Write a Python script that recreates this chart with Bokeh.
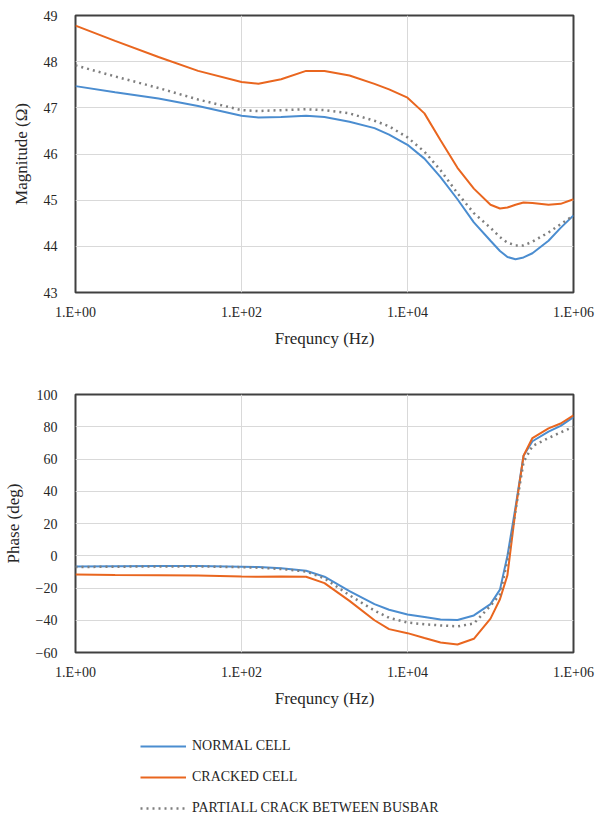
from bokeh.plotting import figure
from bokeh.models import Range1d, FixedTicker, Legend, LegendItem
from bokeh.layouts import column
from bokeh.embed import file_html
from bokeh.resources import INLINE

# ---- data ----
freq_hz = [1, 3, 10, 30, 100, 160, 300, 600, 1000, 2000, 4000, 6000,
           10000, 16000, 25000, 40000, 63000, 100000, 130000, 160000,
           200000, 250000, 320000, 500000, 700000, 1000000]

mag_normal = [47.47, 47.34, 47.20, 47.04, 46.83, 46.79, 46.80, 46.83, 46.80,
              46.70, 46.56, 46.42, 46.20, 45.90, 45.50, 45.02, 44.52, 44.12,
              43.90, 43.77, 43.72, 43.76, 43.85, 44.12, 44.40, 44.67]
mag_cracked = [48.78, 48.45, 48.10, 47.80, 47.56, 47.52, 47.62, 47.80, 47.80,
               47.70, 47.52, 47.40, 47.22, 46.88, 46.30, 45.70, 45.25, 44.90,
               44.82, 44.84, 44.90, 44.95, 44.94, 44.90, 44.92, 45.02]
mag_partial = [47.92, 47.68, 47.43, 47.18, 46.95, 46.93, 46.95, 46.97, 46.95,
               46.88, 46.72, 46.60, 46.36, 46.05, 45.65, 45.15, 44.72, 44.40,
               44.20, 44.08, 44.02, 44.02, 44.10, 44.30, 44.48, 44.67]

ph_normal = [-6.7, -6.5, -6.3, -6.3, -6.8, -7.0, -7.8, -9.3, -13.0, -22.0,
             -30.0, -33.5, -36.4, -38.0, -39.5, -39.8, -37.0, -30.0, -21.0,
             0.0, 30.0, 62.0, 71.0, 77.0, 80.5, 86.0]
ph_cracked = [-11.6, -11.9, -12.1, -12.3, -12.9, -13.1, -12.8, -13.0, -17.0,
              -28.0, -40.0, -45.5, -48.0, -51.0, -53.8, -55.0, -51.5, -39.0,
              -27.0, -12.0, 28.0, 62.0, 73.0, 79.0, 82.0, 87.0]
ph_partial = [-7.0, -6.8, -6.6, -6.6, -7.1, -7.4, -8.2, -9.8, -14.0, -24.5,
              -34.0, -38.5, -41.4, -42.5, -43.2, -43.8, -42.0, -31.0, -24.0,
              -3.0, 28.0, 58.0, 68.0, 73.0, 76.5, 80.0]

x_ticks = [1, 100, 10000, 1000000]
x_tick_labels = ["1.E+00", "1.E+02", "1.E+04", "1.E+06"]
mag_ticks = [43, 44, 45, 46, 47, 48, 49]
ph_ticks = [-60, -40, -20, 0, 20, 40, 60, 80, 100]

series_names = ["NORMAL CELL", "CRACKED CELL", "PARTIALL CRACK BETWEEN BUSBAR"]

# ---- styles ----
FONT = "'Liberation Serif', 'Times New Roman', serif"
LEGEND_FONT = "Liberation Serif"
BLUE = "#4B8DD0"
ORANGE = "#E9661F"
GRAY = "#7F7F7F"
TXT = "#262626"


def style(p, yticks, ylabel):
    p.xaxis.ticker = FixedTicker(ticks=x_ticks, minor_ticks=[])
    p.xaxis.major_label_overrides = {t: l for t, l in zip(x_ticks, x_tick_labels)}
    p.yaxis.ticker = FixedTicker(ticks=yticks, minor_ticks=[])
    p.xaxis.axis_label = "Frequncy (Hz)"
    p.yaxis.axis_label = ylabel
    for ax in (p.xaxis, p.yaxis):
        ax.axis_line_color = None
        ax.major_tick_line_color = None
        ax.minor_tick_line_color = None
        ax.major_label_text_font = FONT
        ax.major_label_text_font_size = "14px"
        ax.major_label_text_color = TXT
        ax.axis_label_text_font = FONT
        ax.axis_label_text_font_size = "17px"
        ax.axis_label_text_font_style = "normal"
        ax.axis_label_text_color = TXT
    p.xaxis.major_label_standoff = 6
    p.yaxis.major_label_standoff = 12
    p.xaxis.axis_label_standoff = 6
    p.yaxis.axis_label_standoff = 10
    p.grid.grid_line_color = "#D9D9D9"
    p.grid.grid_line_width = 1
    p.outline_line_color = "#404040"
    p.outline_line_width = 2
    p.background_fill_color = "white"
    p.border_fill_color = "white"


# ---- magnitude ----
p1 = figure(frame_width=498, frame_height=277, x_axis_type="log",
            x_range=Range1d(1, 1e6), y_range=Range1d(43, 49),
            output_backend="svg", toolbar_location=None,
            min_border_left=72, min_border_right=25, min_border_top=15,
            min_border_bottom=58)
style(p1, mag_ticks, "Magnitude (Ω)")
p1.line(freq_hz, mag_normal, line_color=BLUE, line_width=2)
p1.line(freq_hz, mag_cracked, line_color=ORANGE, line_width=2)
p1.line(freq_hz, mag_partial, line_color=GRAY, line_width=2.5, line_dash="2 4")

# ---- phase ----
p2 = figure(frame_width=498, frame_height=258, x_axis_type="log",
            x_range=Range1d(1, 1e6), y_range=Range1d(-60, 100),
            output_backend="svg", toolbar_location=None,
            min_border_left=72, min_border_right=25, min_border_top=44,
            min_border_bottom=63)
style(p2, ph_ticks, "Phase (deg)")
p2.line(freq_hz, ph_normal, line_color=BLUE, line_width=2)
p2.line(freq_hz, ph_cracked, line_color=ORANGE, line_width=2)
p2.line(freq_hz, ph_partial, line_color=GRAY, line_width=2.5, line_dash="2 4")

# ---- legend strip (series drawn outside its visible ranges; only the key shows) ----
p3 = figure(frame_width=498, frame_height=106, x_range=Range1d(-2, -1),
            y_range=Range1d(0, 1), output_backend="svg", toolbar_location=None,
            x_axis_location=None, y_axis_location=None,
            min_border_left=72, min_border_right=25, min_border_top=0,
            min_border_bottom=0)
p3.grid.visible = False
p3.outline_line_color = None
p3.background_fill_color = "white"
p3.border_fill_color = "white"
r1 = p3.line(freq_hz, ph_normal, line_color=BLUE, line_width=2)
r2 = p3.line(freq_hz, ph_cracked, line_color=ORANGE, line_width=2)
r3 = p3.line(freq_hz, ph_partial, line_color=GRAY, line_width=2.5, line_dash="2 4")
legend = Legend(items=[LegendItem(label=series_names[0], renderers=[r1]),
                       LegendItem(label=series_names[1], renderers=[r2]),
                       LegendItem(label=series_names[2], renderers=[r3])],
                location=(65, 3), orientation="vertical",
                glyph_width=46, glyph_height=20, label_height=20,
                label_standoff=6, spacing=11, padding=0, margin=0,
                background_fill_alpha=0, border_line_color=None,
                label_text_font=LEGEND_FONT, label_text_font_size="14px",
                label_text_color=TXT)
p3.add_layout(legend, "center")

layout = column(p1, p2, p3, spacing=0)
open("out.html", "w").write(file_html(layout, INLINE))
